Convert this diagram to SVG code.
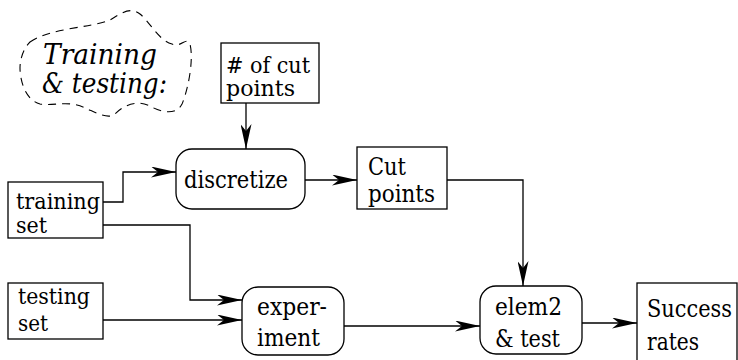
<svg xmlns="http://www.w3.org/2000/svg" width="738" height="360" viewBox="0 0 738 360">
<defs>
<style>
.box{fill:#fff;stroke:#000;stroke-width:1.3}
.t{font-family:'DejaVu Serif Condensed','DejaVu Serif',serif;font-size:24px;fill:#000}
.s{font-size:22px}
.ti{font-family:'DejaVu Serif Condensed','DejaVu Serif',serif;font-size:27px;font-style:italic;fill:#000}
.c{fill:none;stroke:#000;stroke-width:1.3}
</style>
<marker id="ah" viewBox="0 0 25 11" refX="25" refY="5.5" markerWidth="25" markerHeight="11" markerUnits="userSpaceOnUse" orient="auto">
<path d="M0,0 L25,5.5 L0,11 L7,5.5 Z" fill="#000"/>
</marker>
</defs>
<rect width="738" height="360" fill="#fff"/>
<g id="title">
<path d="M30,42 C50,28 90,28 110,20 C120,14 130,6 140,14 C150,22 158,40 172,44 C182,48 186,36 190,44 C194,60 188,90 182,104 C176,116 160,112 150,106 C138,100 125,104 115,114 C108,120 95,112 85,108 C70,100 55,106 40,104 C25,100 20,80 20,68 C20,58 24,48 30,42 Z" fill="none" stroke="#000" stroke-width="1.1" stroke-dasharray="8,6"/>
<text class="ti" x="43" y="64" textLength="114" lengthAdjust="spacingAndGlyphs">Training</text>
<text class="ti" x="42" y="93" textLength="125" lengthAdjust="spacingAndGlyphs">&amp; testing:</text>
</g>
<g id="connectors">
<line class="c" x1="246" y1="103" x2="246" y2="149" marker-end="url(#ah)"/>
<polyline class="c" points="103,202 123,202 123,172 176,172" marker-end="url(#ah)"/>
<polyline class="c" points="103,225 190,225 190,300 242,300" marker-end="url(#ah)"/>
<line class="c" x1="103" y1="320" x2="242" y2="320" marker-end="url(#ah)"/>
<line class="c" x1="305" y1="180" x2="357" y2="180" marker-end="url(#ah)"/>
<polyline class="c" points="447,180 523,180 523,286" marker-end="url(#ah)"/>
<line class="c" x1="344" y1="326" x2="480" y2="326" marker-end="url(#ah)"/>
<line class="c" x1="582" y1="323" x2="637" y2="323" marker-end="url(#ah)"/>
</g>
<g id="ncut">
<rect class="box" x="221" y="43" width="98" height="60"/>
<text class="t s" x="226" y="73" textLength="84" lengthAdjust="spacingAndGlyphs"># of cut</text>
<text class="t s" x="226" y="96" textLength="69" lengthAdjust="spacingAndGlyphs">points</text>
</g>
<g id="discretize">
<rect class="box" x="176" y="149" width="129" height="60" rx="16" ry="16"/>
<text class="t" x="184" y="188" textLength="104" lengthAdjust="spacingAndGlyphs">discretize</text>
</g>
<g id="training">
<rect class="box" x="8" y="182" width="95" height="56"/>
<text class="t s" x="16" y="209" textLength="84" lengthAdjust="spacingAndGlyphs">training</text>
<text class="t s" x="16" y="233" textLength="31" lengthAdjust="spacingAndGlyphs">set</text>
</g>
<g id="testing">
<rect class="box" x="8" y="283" width="95" height="56"/>
<text class="t s" x="18" y="304" textLength="72" lengthAdjust="spacingAndGlyphs">testing</text>
<text class="t s" x="18" y="331" textLength="30" lengthAdjust="spacingAndGlyphs">set</text>
</g>
<g id="cutpoints">
<rect class="box" x="357" y="147" width="90" height="62"/>
<text class="t" x="368" y="175" textLength="38" lengthAdjust="spacingAndGlyphs">Cut</text>
<text class="t" x="368" y="202" textLength="67" lengthAdjust="spacingAndGlyphs">points</text>
</g>
<g id="experiment">
<rect class="box" x="242" y="287" width="102" height="68" rx="16" ry="16"/>
<text class="t" x="257" y="315" textLength="70" lengthAdjust="spacingAndGlyphs">exper-</text>
<text class="t" x="257" y="346" textLength="63" lengthAdjust="spacingAndGlyphs">iment</text>
</g>
<g id="elem2">
<rect class="box" x="480" y="286" width="102" height="68" rx="16" ry="16"/>
<text class="t" x="495" y="315" textLength="67" lengthAdjust="spacingAndGlyphs">elem2</text>
<text class="t" x="495" y="347" textLength="65" lengthAdjust="spacingAndGlyphs">&amp; test</text>
</g>
<g id="success">
<rect class="box" x="637" y="283" width="100" height="90"/>
<text class="t" x="647" y="317" textLength="85" lengthAdjust="spacingAndGlyphs">Success</text>
<text class="t" x="647" y="350" textLength="52" lengthAdjust="spacingAndGlyphs">rates</text>
</g>
</svg>
